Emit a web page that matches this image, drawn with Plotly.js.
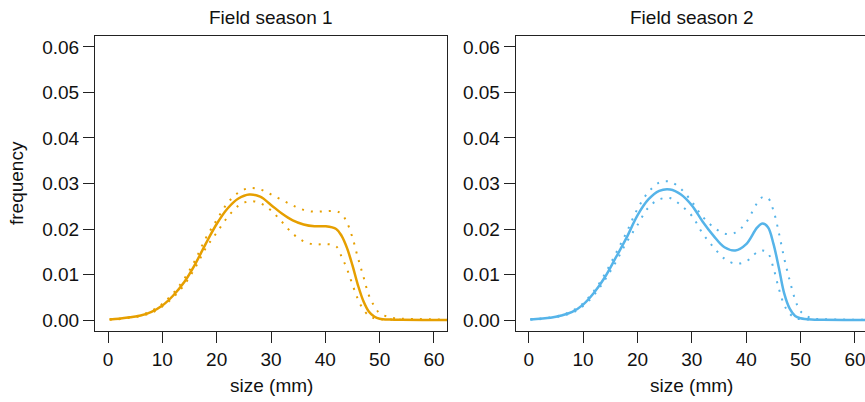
<!DOCTYPE html>
<html><head><meta charset="utf-8">
<script src="https://cdn.plot.ly/plotly-3.0.1.min.js"></script>
<style>html,body{margin:0;padding:0;overflow:hidden;background:#fff}#chart{width:868px;height:402px}</style>
</head><body><div id="chart"></div>
<script>
// size grid (mm)
const sizeGrid = [0.3, 2, 4, 6, 8, 10, 12, 14, 16, 18, 20, 22, 24, 26, 28, 30, 32, 34, 36, 38, 40, 42, 43, 44, 45, 46, 47, 48, 49, 50, 52, 54, 58, 64];

// Field season 1
const season1Fit   = [0.00015, 0.0003, 0.0006, 0.0010, 0.0018, 0.0032, 0.0054, 0.0083, 0.0122, 0.0168, 0.0211, 0.0245, 0.0267, 0.0276, 0.0271, 0.0253, 0.0234, 0.0219, 0.0210, 0.0206, 0.0206, 0.0200, 0.0185, 0.0158, 0.0120, 0.0077, 0.0042, 0.0019, 0.0008, 0.0003, 0.0001, 0.00005, 0.00003, 0.00003];
const season1Upper = [0.0002, 0.0003, 0.0006, 0.0011, 0.0020, 0.0036, 0.0059, 0.0090, 0.0131, 0.0180, 0.0220, 0.0257, 0.0280, 0.0290, 0.0287, 0.0276, 0.0264, 0.0252, 0.0242, 0.0238, 0.0239, 0.0239, 0.0233, 0.0214, 0.0181, 0.0137, 0.0096, 0.0055, 0.0031, 0.0015, 0.0006, 0.0003, 0.0002, 0.0001];
const season1Lower = [0.0001, 0.0002, 0.0005, 0.0009, 0.0016, 0.0030, 0.0050, 0.0077, 0.0114, 0.0158, 0.0192, 0.0226, 0.0251, 0.0261, 0.0257, 0.0241, 0.0216, 0.0190, 0.0173, 0.0166, 0.0167, 0.0162, 0.0139, 0.0112, 0.0078, 0.0046, 0.0023, 0.0010, 0.0004, 0.0002, 0.0001, 0.00005, 0.00002, 0.00002];

// Field season 2
const season2Fit   = [0.00015, 0.0003, 0.0005, 0.0010, 0.0018, 0.0034, 0.0060, 0.0094, 0.0137, 0.0181, 0.0230, 0.0265, 0.0284, 0.0287, 0.0276, 0.0252, 0.0216, 0.0185, 0.0160, 0.0153, 0.0167, 0.0203, 0.0212, 0.0204, 0.0168, 0.0115, 0.0058, 0.0025, 0.0009, 0.0004, 0.0001, 0.00005, 0.00003, 0.00003];
const season2Upper = [0.0002, 0.0003, 0.0006, 0.0011, 0.0020, 0.0037, 0.0064, 0.0101, 0.0146, 0.0193, 0.0244, 0.0281, 0.0302, 0.0304, 0.0288, 0.0260, 0.0227, 0.0204, 0.0190, 0.0192, 0.0215, 0.0257, 0.0270, 0.0268, 0.0241, 0.0192, 0.0135, 0.0087, 0.0045, 0.0019, 0.0004, 0.0002, 0.0001, 0.0001];
const season2Lower = [0.0001, 0.0002, 0.0005, 0.0009, 0.0016, 0.0031, 0.0055, 0.0088, 0.0127, 0.0171, 0.0209, 0.0247, 0.0265, 0.0268, 0.0252, 0.0229, 0.0190, 0.0160, 0.0135, 0.0124, 0.0129, 0.0149, 0.0153, 0.0147, 0.0115, 0.0069, 0.0033, 0.0014, 0.0005, 0.0002, 0.0001, 0.00005, 0.00002, 0.00002];

const panelTitles = ['Field season 1', 'Field season 2'];
const xAxisLabel = 'size (mm)';
const yAxisLabel = 'frequency';
const xTicks = [0, 10, 20, 30, 40, 50, 60];
const yTicks = [0, 0.01, 0.02, 0.03, 0.04, 0.05, 0.06];

const seasonColors = ['#E69F00', '#56B4E9'];
const FONT = 'Liberation Sans, Arial, Helvetica, sans-serif';
const FS = 19;

function seasonTraces(fit, upper, lower, color, xa, ya) {
  const base = {x: sizeGrid, mode: 'lines', xaxis: xa, yaxis: ya, hoverinfo: 'skip', showlegend: false};
  return [
    Object.assign({}, base, {y: upper, line: {color: color, width: 2, dash: '2px,7px', shape: 'spline', smoothing: 1}}),
    Object.assign({}, base, {y: lower, line: {color: color, width: 2, dash: '2px,7px', shape: 'spline', smoothing: 1}}),
    Object.assign({}, base, {y: fit, line: {color: color, width: 2.5, shape: 'spline', smoothing: 1}})
  ];
}

const data = [].concat(
  seasonTraces(season1Fit, season1Upper, season1Lower, seasonColors[0], 'x', 'y'),
  seasonTraces(season2Fit, season2Upper, season2Lower, seasonColors[1], 'x2', 'y2')
);

function xAxis(domain, anchor) {
  return {domain: domain, anchor: anchor, range: [-2.4, 62.4], tickvals: xTicks, ticktext: xTicks.map(String),
    showline: true, mirror: true, linecolor: '#222', linewidth: 1, ticks: 'outside', ticklen: 11, tickwidth: 1, tickcolor: '#222',
    showgrid: false, zeroline: false, tickfont: {family: FONT, size: FS, color: '#111'}, fixedrange: true};
}
function yAxis(anchor) {
  return {domain: [0, 1], anchor: anchor, range: [-0.0024, 0.0624], tickvals: yTicks, ticktext: yTicks.map(v => v.toFixed(2)),
    showline: true, mirror: true, linecolor: '#222', linewidth: 1, ticks: 'outside', ticklen: 11, tickwidth: 1, tickcolor: '#222',
    showgrid: false, zeroline: false, tickfont: {family: FONT, size: FS, color: '#111'}, fixedrange: true};
}

const L = 95, W = 868, T = 36, B = 71;
const PW = W - L;
const d1 = [0, (447 - L) / PW];
const d2 = [(515.7 - L) / PW, 1];

const annFont = {family: FONT, size: FS, color: '#111'};
const annotations = [
  {text: panelTitles[0], xref: 'paper', yref: 'paper', x: (d1[0] + d1[1]) / 2, y: (331 - 17.5) / 295, xanchor: 'center', yanchor: 'middle', showarrow: false, font: annFont},
  {text: panelTitles[1], xref: 'paper', yref: 'paper', x: (d2[0] + d2[1]) / 2, y: (331 - 17.5) / 295, xanchor: 'center', yanchor: 'middle', showarrow: false, font: annFont},
  {text: xAxisLabel, xref: 'paper', yref: 'paper', x: (d1[0] + d1[1]) / 2, y: (331 - 385) / 295, xanchor: 'center', yanchor: 'middle', showarrow: false, font: annFont},
  {text: xAxisLabel, xref: 'paper', yref: 'paper', x: (d2[0] + d2[1]) / 2, y: (331 - 385) / 295, xanchor: 'center', yanchor: 'middle', showarrow: false, font: annFont},
  {text: yAxisLabel, xref: 'paper', yref: 'paper', x: (16.5 - L) / PW, y: 0.5, xanchor: 'center', yanchor: 'middle', textangle: -90, showarrow: false, font: annFont}
];

const layout = {
  width: W, height: 402,
  margin: {l: L, r: 0, t: T, b: B, pad: 0},
  paper_bgcolor: '#fff', plot_bgcolor: '#fff',
  showlegend: false,
  xaxis: xAxis(d1, 'y'), yaxis: yAxis('x'),
  xaxis2: xAxis(d2, 'y2'), yaxis2: yAxis('x2'),
  annotations: annotations,
  font: {family: FONT, size: FS, color: '#111'}
};

Plotly.newPlot('chart', data, layout, {displayModeBar: false, staticPlot: true});
</script>
</body></html>
